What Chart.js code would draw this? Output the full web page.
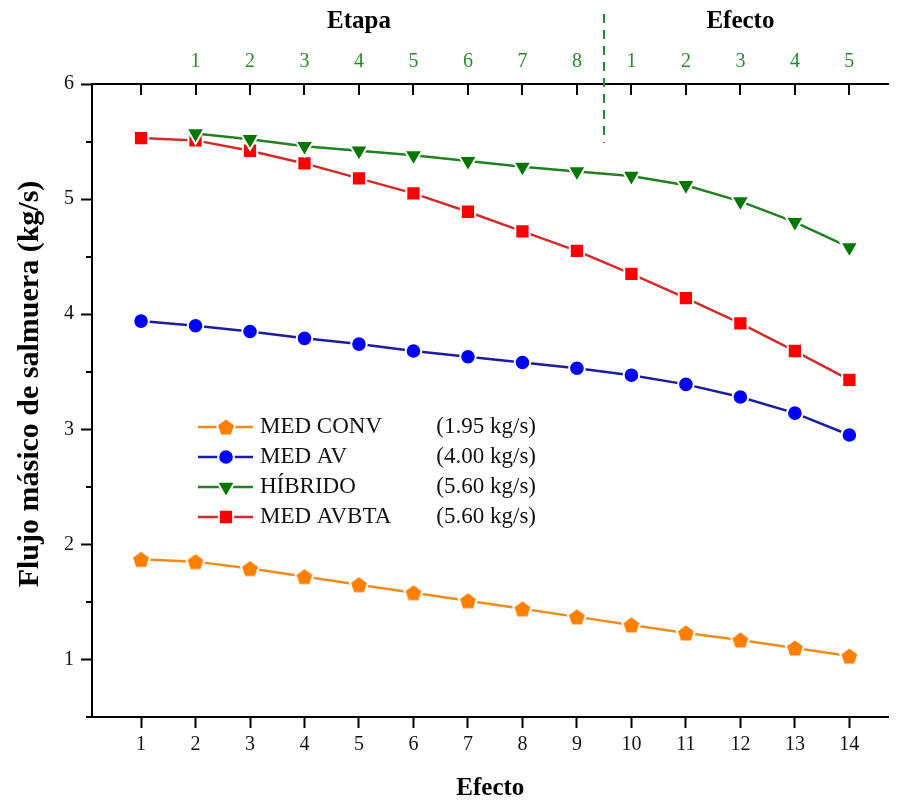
<!DOCTYPE html>
<html>
<head>
<meta charset="utf-8">
<title>Flujo másico de salmuera por efecto</title>
<script src="https://cdn.jsdelivr.net/npm/chart.js@4.4.1/dist/chart.umd.min.js"></script>
<style>
  html, body { margin: 0; padding: 0; background: #ffffff; }
  #wrap { width: 901px; height: 800px; }
</style>
</head>
<body>
<div id="wrap"><canvas id="c" width="901" height="800"></canvas></div>
<script>
// Effect numbers along the bottom axis
const efectos = [1, 2, 3, 4, 5, 6, 7, 8, 9, 10, 11, 12, 13, 14];

// Brine mass flow (kg/s) leaving each effect
const medConv  = [1.87, 1.85, 1.79, 1.72, 1.65, 1.58, 1.51, 1.44, 1.37, 1.30, 1.23, 1.17, 1.10, 1.03];
const medAv    = [3.94, 3.90, 3.85, 3.79, 3.74, 3.68, 3.63, 3.58, 3.53, 3.47, 3.39, 3.28, 3.14, 2.95];
const hibridoX = [2, 3, 4, 5, 6, 7, 8, 9, 10, 11, 12, 13, 14];
const hibrido  = [5.57, 5.52, 5.46, 5.42, 5.38, 5.33, 5.28, 5.24, 5.20, 5.12, 4.98, 4.80, 4.58];
const medAvbta = [5.53, 5.51, 5.42, 5.31, 5.18, 5.05, 4.89, 4.72, 4.55, 4.35, 4.14, 3.92, 3.68, 3.43];

// Series names and feed flow shown in the key
const seriesNames = ['MED CONV', 'MED AV', 'HÍBRIDO', 'MED AVBTA'];
const feedFlows   = ['(1.95 kg/s)', '(4.00 kg/s)', '(5.60 kg/s)', '(5.60 kg/s)'];

// Upper axis: stages of the hybrid plant followed by its effects
const etapaTicks  = ['1', '2', '3', '4', '5', '6', '7', '8'];
const efectoTicks = ['1', '2', '3', '4', '5'];
const topLabels   = [''].concat(etapaTicks, efectoTicks);

// Left axis ticks
const yTicks      = [1, 2, 3, 4, 5, 6];
const yMinorTicks = [0.5, 1.5, 2.5, 3.5, 4.5, 5.5];
const yTitle = 'Flujo másico de salmuera (kg/s)';

const SERIF = "'Liberation Serif', 'Times New Roman', serif";
const GREEN_TXT = '#2b8a2b';

function pts(xs, ys) { return ys.map((y, i) => ({ x: xs[i], y: y })); }

// Filled pentagon marker with a thin white halo
function pentagon(fill, r) {
  const s = Math.ceil(2 * r + 6);
  const c = document.createElement('canvas');
  c.width = s; c.height = s;
  const g = c.getContext('2d');
  g.beginPath();
  for (let i = 0; i < 5; i++) {
    const a = -Math.PI / 2 + i * 2 * Math.PI / 5;
    const px = s / 2 + r * Math.cos(a), py = s / 2 + 0.8 + r * Math.sin(a);
    if (i) g.lineTo(px, py); else g.moveTo(px, py);
  }
  g.closePath();
  g.fillStyle = fill; g.fill();
  g.lineWidth = 2; g.strokeStyle = '#ffffff'; g.stroke();
  return c;
}

const datasets = [
  {
    label: seriesNames[0], data: pts(efectos, medConv),
    borderColor: '#f08c1e', borderWidth: 2.5,
    pointStyle: pentagon('#ff8000', 9.6), pointRadius: 10,
    pointBackgroundColor: '#ff8000', pointBorderColor: '#ffffff', pointBorderWidth: 0
  },
  {
    label: seriesNames[1], data: pts(efectos, medAv),
    borderColor: '#1c1c9e', borderWidth: 2.5,
    pointStyle: 'circle', pointRadius: 7.8,
    pointBackgroundColor: '#0000ff', pointBorderColor: '#ffffff', pointBorderWidth: 2
  },
  {
    label: seriesNames[2], data: pts(hibridoX, hibrido),
    borderColor: '#228022', borderWidth: 2.5,
    pointStyle: 'triangle', pointRotation: 180, pointRadius: 10.4,
    pointBackgroundColor: '#007800', pointBorderColor: '#ffffff', pointBorderWidth: 2
  },
  {
    label: seriesNames[3], data: pts(efectos, medAvbta),
    borderColor: '#d42a2a', borderWidth: 2.5,
    pointStyle: 'rect', pointRadius: 10.1,
    pointBackgroundColor: '#ff0000', pointBorderColor: '#ffffff', pointBorderWidth: 2
  }
];

// Positions on the x scale for the upper-axis headings and the divider
const stageEffectSplit = 9.5;
const etapaHeadingAt = 5;
const efectoHeadingAt = 12;

const decor = {
  id: 'decor',
  afterDraw(chart) {
    const { ctx, chartArea: a, scales: { x, y } } = chart;
    ctx.save();
    ctx.strokeStyle = '#000000';
    ctx.lineWidth = 2;
    // inward tick marks hanging from the upper axis
    efectos.forEach(v => {
      const px = Math.round(x.getPixelForValue(v));
      ctx.beginPath(); ctx.moveTo(px, a.top); ctx.lineTo(px, a.top + 11); ctx.stroke();
    });
    // minor ticks on the left axis
    yMinorTicks.forEach(v => {
      const py = Math.round(y.getPixelForValue(v));
      ctx.beginPath(); ctx.moveTo(a.left - 6, py); ctx.lineTo(a.left, py); ctx.stroke();
    });
    // divider between stages and effects
    const sx = Math.round(x.getPixelForValue(stageEffectSplit));
    ctx.strokeStyle = GREEN_TXT;
    ctx.setLineDash([9, 7]);
    ctx.beginPath(); ctx.moveTo(sx, 14); ctx.lineTo(sx, 143); ctx.stroke();
    ctx.setLineDash([]);
    // upper-axis headings
    ctx.fillStyle = '#000000';
    ctx.font = 'bold 25px ' + SERIF;
    ctx.textAlign = 'center';
    ctx.textBaseline = 'alphabetic';
    ctx.fillText('Etapa', x.getPixelForValue(etapaHeadingAt), 28);
    ctx.fillText('Efecto', x.getPixelForValue(efectoHeadingAt), 28);
    // vertical axis title
    ctx.save();
    ctx.translate(30, 384);
    ctx.rotate(-Math.PI / 2);
    ctx.font = 'bold 30px ' + SERIF;
    ctx.textBaseline = 'middle';
    ctx.fillText(yTitle, 0, 0);
    ctx.restore();
    // key
    const rowY0 = 427, rowStep = 30;
    chart.data.datasets.forEach((ds, i) => {
      const ry = rowY0 + i * rowStep;
      ctx.strokeStyle = ds.borderColor;
      ctx.lineWidth = ds.borderWidth;
      ctx.beginPath(); ctx.moveTo(198, ry); ctx.lineTo(253, ry); ctx.stroke();
      ctx.fillStyle = ds.pointBackgroundColor;
      ctx.strokeStyle = ds.pointBorderColor;
      ctx.lineWidth = ds.pointBorderWidth;
      Chart.helpers.drawPoint(ctx, {
        pointStyle: ds.pointStyle, rotation: ds.pointRotation || 0,
        radius: ds.pointRadius, borderWidth: ds.pointBorderWidth
      }, 226, ry);
      ctx.fillStyle = '#111111';
      ctx.font = '23px ' + SERIF;
      ctx.textBaseline = 'middle';
      ctx.textAlign = 'left';
      ctx.fillText(seriesNames[i], 260, ry);
      ctx.textAlign = 'right';
      ctx.fillText(feedFlows[i], 536, ry);
    });
    ctx.restore();
  }
};

const xRange = { min: 0.1, max: 14.72 };
const setXTicks = s => { s.ticks = efectos.map(v => ({ value: v })); };

new Chart(document.getElementById('c'), {
  type: 'line',
  data: { datasets: datasets },
  options: {
    responsive: false,
    animation: false,
    events: [],
    layout: { padding: 0 },
    plugins: { legend: { display: false }, tooltip: { enabled: false }, title: { display: false } },
    scales: {
      x: {
        type: 'linear', position: 'bottom', min: xRange.min, max: xRange.max,
        afterBuildTicks: setXTicks,
        afterFit: s => { s.height = 83; },
        grid: { drawOnChartArea: false, drawTicks: true, tickLength: 11, tickWidth: 2, color: '#000000' },
        border: { display: true, color: '#000000', width: 2 },
        ticks: { font: { family: SERIF, size: 20 }, color: '#111111', padding: 5, maxRotation: 0, autoSkip: false, callback: v => String(v) },
        title: { display: true, text: 'Efecto', color: '#000000', font: { family: SERIF, size: 25, weight: 'bold', lineHeight: 0.9 }, padding: { top: 0, bottom: 0 } }
      },
      xTop: {
        type: 'linear', position: 'top', min: xRange.min, max: xRange.max,
        afterBuildTicks: setXTicks,
        afterFit: s => { s.height = 84; },
        grid: { drawOnChartArea: false, drawTicks: false },
        border: { display: true, color: '#000000', width: 2 },
        ticks: { font: { family: SERIF, size: 20 }, color: GREEN_TXT, padding: 10, maxRotation: 0, autoSkip: false, callback: v => { const k = efectos.indexOf(v); return k >= 0 ? topLabels[k] : ''; } }
      },
      y: {
        type: 'linear', position: 'left', min: 0.5, max: 6,
        afterBuildTicks: s => { s.ticks = yTicks.map(v => ({ value: v })); },
        afterFit: s => { s.width = 92; },
        grid: { drawOnChartArea: false, drawTicks: true, tickLength: 11, tickWidth: 2, color: '#000000' },
        border: { display: true, color: '#000000', width: 2 },
        ticks: { font: { family: SERIF, size: 20 }, color: '#111111', padding: 7, callback: v => String(v) },
        title: { display: false }
      }
    }
  },
  plugins: [decor]
});
</script>
</body>
</html>
